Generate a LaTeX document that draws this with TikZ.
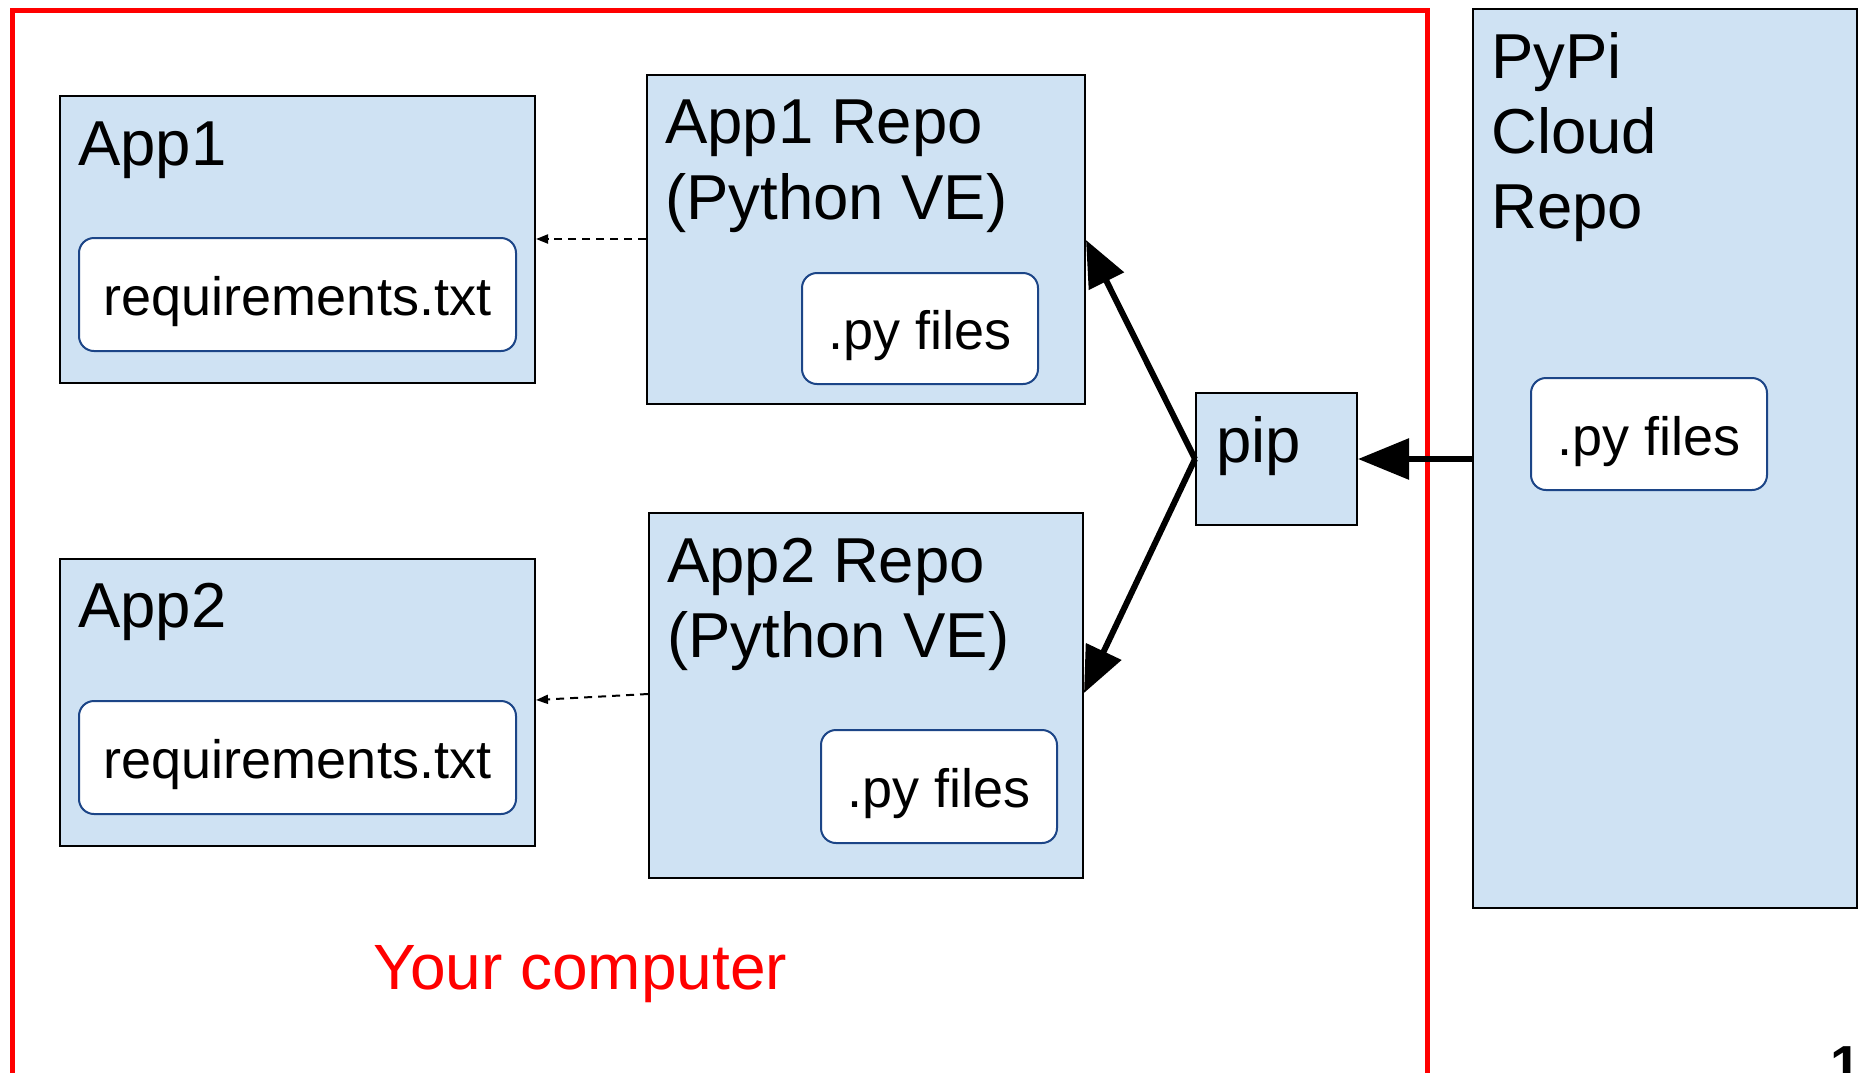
\documentclass[tikz,border=0pt]{standalone}
\usepackage{fontspec}
\setmainfont{Liberation Sans}
\usetikzlibrary{arrows.meta}
\definecolor{boxfill}{HTML}{CFE2F3}
\definecolor{innerline}{HTML}{1C4587}
\definecolor{framered}{HTML}{FF0000}
\newcommand\fbig{\fontsize{63.5}{76}\selectfont}
\newcommand\fmed{\fontsize{54}{65}\selectfont}
\begin{document}
\begin{tikzpicture}[x=1pt,y=-1pt,
  bluebox/.style={draw=black, line width=2pt, fill=boxfill, anchor=north west, inner sep=0pt},
  filebox/.style={draw=innerline, line width=2pt, fill=white, rounded corners=15pt, anchor=north west,
    inner sep=0pt, font=\fmed, text height=52pt, text depth=10pt},
  title/.style={anchor=base west, inner sep=0pt, font=\fbig},
  thickarr/.style={line width=6pt, -{Triangle[length=46pt,width=38pt]}},
  pyarr/.style={line width=6pt, -{Triangle[length=51pt,width=40pt]}},
  dasharr/.style={line width=2pt, dash pattern=on 8pt off 6pt, -{Triangle[length=12pt,width=9pt]}}
]
\useasboundingbox (0,0) rectangle (1861,1072);
\fill[white] (0,0) rectangle (1861,1072);

% red frame (open at the bottom, cut by the page)
\draw[framered, line width=5pt] (12,1100) -- (12,10) -- (1427,10) -- (1427,1100);

% App1
\node[bluebox, minimum width=475pt, minimum height=287pt] (a1) at (59,95) {};
\node[title] (a1t) at (78,165) {App1};
\node[filebox, minimum width=437pt, minimum height=113pt] (a1req) at (78,237) {requirements.txt};

% App2
\node[bluebox, minimum width=475pt, minimum height=287pt] (a2) at (59,558) {};
\node[title] (a2t) at (78,627) {App2};
\node[filebox, minimum width=437pt, minimum height=113pt] (a2req) at (78,700) {requirements.txt};

% App1 Repo
\node[bluebox, minimum width=438pt, minimum height=329pt] (r1) at (646,74) {};
\node[title] (r1t) at (665,143) {App1 Repo};
\node[title] (r1u) at (665,219) {(Python VE)};
\node[filebox, minimum width=236pt, minimum height=111pt] (r1py) at (801,272) {.py files};

% App2 Repo
\node[bluebox, minimum width=434pt, minimum height=365pt] (r2) at (648,512) {};
\node[title] (r2t) at (667,582) {App2 Repo};
\node[title] (r2u) at (667,657) {(Python VE)};
\node[filebox, minimum width=236pt, minimum height=113pt] (r2py) at (820,729) {.py files};

% pip
\node[bluebox, minimum width=161pt, minimum height=132pt] (pip) at (1195,392) {};
\node[title] (pipt) at (1216,462) {pip};

% PyPi
\node[bluebox, minimum width=384pt, minimum height=899pt] (pypi) at (1472,8) {};
\node[title] (pypi1) at (1491,78) {PyPi};
\node[title] (pypi2) at (1491,153) {Cloud};
\node[title] (pypi3) at (1491,228) {Repo};
\node[filebox, minimum width=236pt, minimum height=112pt] (pypipy) at (1530,377) {.py files};

% Your computer
\node[anchor=base west, inner sep=0pt, text=framered, font=\fontsize{64}{76}\selectfont] (yc) at (373,989) {Your computer};

% page number, cut by the page as in the reference
\node[anchor=base west, inner sep=0pt, font=\fontsize{55}{66}\selectfont\bfseries] (pg) at (1830,1084) {1};

% connectors
\draw[thickarr] (pip.west) -- ([yshift=-166pt]r1.north east);
\draw[thickarr] (pip.west) -- ([yshift=-181pt]r2.north east);
\draw[pyarr] (pypi.west |- pip.east) -- (pip.east);
\draw[dasharr] ([yshift=-165pt]r1.north west) -- ([yshift=-144pt]a1.north east);
\draw[dasharr] ([yshift=-182pt]r2.north west) -- ([yshift=-142pt]a2.north east);
\end{tikzpicture}
\end{document}
